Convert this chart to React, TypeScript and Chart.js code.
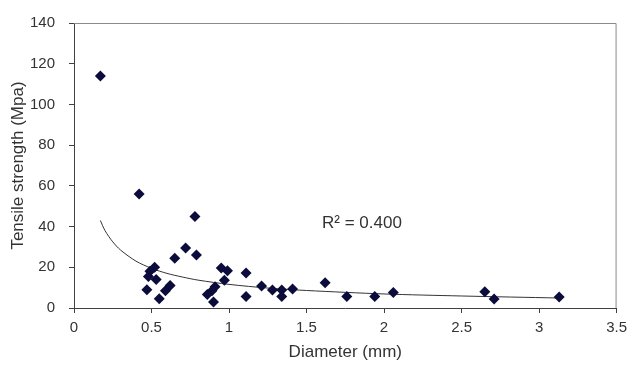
import React, { useEffect, useRef } from "react";
import { Chart, registerables } from "chart.js";

Chart.register(...registerables);

// Measured points: diameter (mm) and tensile strength (MPa)
const diameters = [
  0.17, 0.42, 0.78, 0.72, 0.65, 0.79, 0.52, 0.49, 0.48, 0.53, 0.47, 0.55, 0.59, 0.62,
  0.95, 0.99, 0.97, 0.91, 0.86, 0.89, 0.9, 1.11, 1.11, 1.21, 1.28, 1.34, 1.34, 1.41,
  1.62, 1.76, 1.94, 2.06, 2.65, 2.71, 3.13,
];
const strengths = [
  114, 56, 45, 29.5, 24.5, 26, 20, 18, 15.5, 14, 9, 4.5, 8.5, 11,
  19.7, 18.3, 13.6, 10.4, 6.6, 8.5, 3, 17.2, 5.7, 10.8, 8.8, 8.8, 5.7, 9.3,
  12.4, 5.7, 5.7, 7.6, 8, 4.4, 5.4,
];

// Trendline
const trendX = [0.17, 0.2, 0.25, 0.3, 0.4, 0.5, 0.6, 0.7, 0.8, 1.0, 1.25, 1.5, 2.0, 2.5, 3.13];
const trendY = [43, 38, 32.5, 28.5, 23, 19.5, 17, 15.2, 13.7, 11.6, 9.8, 8.6, 6.9, 5.9, 4.9];

const xTicks = [0, 0.5, 1, 1.5, 2, 2.5, 3, 3.5];
const yTicks = [0, 20, 40, 60, 80, 100, 120, 140];
const xTitle = "Diameter (mm)";
const yTitle = "Tensile strength (Mpa)";
const r2Label = "R² = 0.400";
const r2Pos = { x: 1.6, y: 41.6 };

const FONT = "'Liberation Sans', Arial, sans-serif";

export default function App() {
  const ref = useRef<HTMLCanvasElement | null>(null);

  useEffect(() => {
    document.body.style.margin = "0";
    const canvas = ref.current!;
    const frame = {
      id: "frame",
      beforeDatasetsDraw(chart: any) {
        const { ctx, chartArea: a } = chart;
        ctx.save();
        ctx.strokeStyle = "#8a8a8a";
        ctx.lineWidth = 1;
        ctx.beginPath();
        ctx.moveTo(a.left, a.top + 0.5);
        ctx.lineTo(a.right - 0.5, a.top + 0.5);
        ctx.lineTo(a.right - 0.5, a.bottom);
        ctx.stroke();
        ctx.restore();
      },
      afterDatasetsDraw(chart: any) {
        const { ctx } = chart;
        const xs = chart.scales.x;
        const ys = chart.scales.y;
        ctx.save();
        ctx.fillStyle = "#333";
        ctx.font = `17px ${FONT}`;
        ctx.textAlign = "left";
        ctx.textBaseline = "middle";
        ctx.fillText(r2Label, xs.getPixelForValue(r2Pos.x), ys.getPixelForValue(r2Pos.y));
        ctx.restore();
      },
    };

    const chart = new Chart(canvas, {
      type: "scatter",
      data: {
        datasets: [
          {
            label: "points",
            data: diameters.map((d, i) => ({ x: d, y: strengths[i] })),
            pointStyle: "rectRot",
            pointRadius: 5.5,
            pointBackgroundColor: "#0c0c3c",
            pointBorderColor: "#0c0c3c",
            pointBorderWidth: 0,
            showLine: false,
            order: 1,
          },
          {
            label: "trend",
            type: "line",
            data: trendX.map((d, i) => ({ x: d, y: trendY[i] })),
            borderColor: "#333",
            borderWidth: 1,
            pointRadius: 0,
            fill: false,
            tension: 0.3,
            order: 2,
          } as any,
        ],
      },
      options: {
        responsive: false,
        animation: false,
        devicePixelRatio: 1,
        layout: { padding: { top: 11, right: 13, left: 8, bottom: 17 } },
        plugins: { legend: { display: false }, tooltip: { enabled: false } },
        scales: {
          x: {
            type: "linear",
            min: 0,
            max: 3.5,
            afterFit: (s: any) => {
              s.height = 55;
            },
            afterBuildTicks: (s: any) => {
              s.ticks = xTicks.map((v) => ({ value: v }));
            },
            ticks: {
              color: "#333",
              font: { family: FONT, size: 15 },
              padding: 6,
              maxRotation: 0,
              callback: (v: any) => String(v),
            },
            grid: {
              drawOnChartArea: false,
              drawTicks: true,
              tickLength: 5,
              color: "#404040",
            },
            border: { color: "#404040", width: 1 },
            title: {
              display: true,
              text: xTitle,
              color: "#333",
              font: { family: FONT, size: 17 },
              padding: 0,
            },
          },
          y: {
            type: "linear",
            min: 0,
            max: 140,
            afterFit: (s: any) => {
              s.width = 66;
            },
            afterBuildTicks: (s: any) => {
              s.ticks = yTicks.map((v) => ({ value: v }));
            },
            ticks: {
              color: "#333",
              font: { family: FONT, size: 15 },
              padding: 14,
              callback: (v: any) => String(v),
            },
            grid: {
              drawOnChartArea: false,
              drawTicks: true,
              tickLength: 5,
              color: "#404040",
            },
            border: { color: "#404040", width: 1 },
            title: {
              display: true,
              text: yTitle,
              color: "#333",
              font: { family: FONT, size: 17 },
              padding: 0,
            },
          },
        },
      },
      plugins: [frame],
    });
    return () => chart.destroy();
  }, []);

  return (
    <div style={{ width: 633, height: 380, background: "#fff" }}>
      <canvas ref={ref} width={633} height={380} style={{ display: "block" }} />
    </div>
  );
}
